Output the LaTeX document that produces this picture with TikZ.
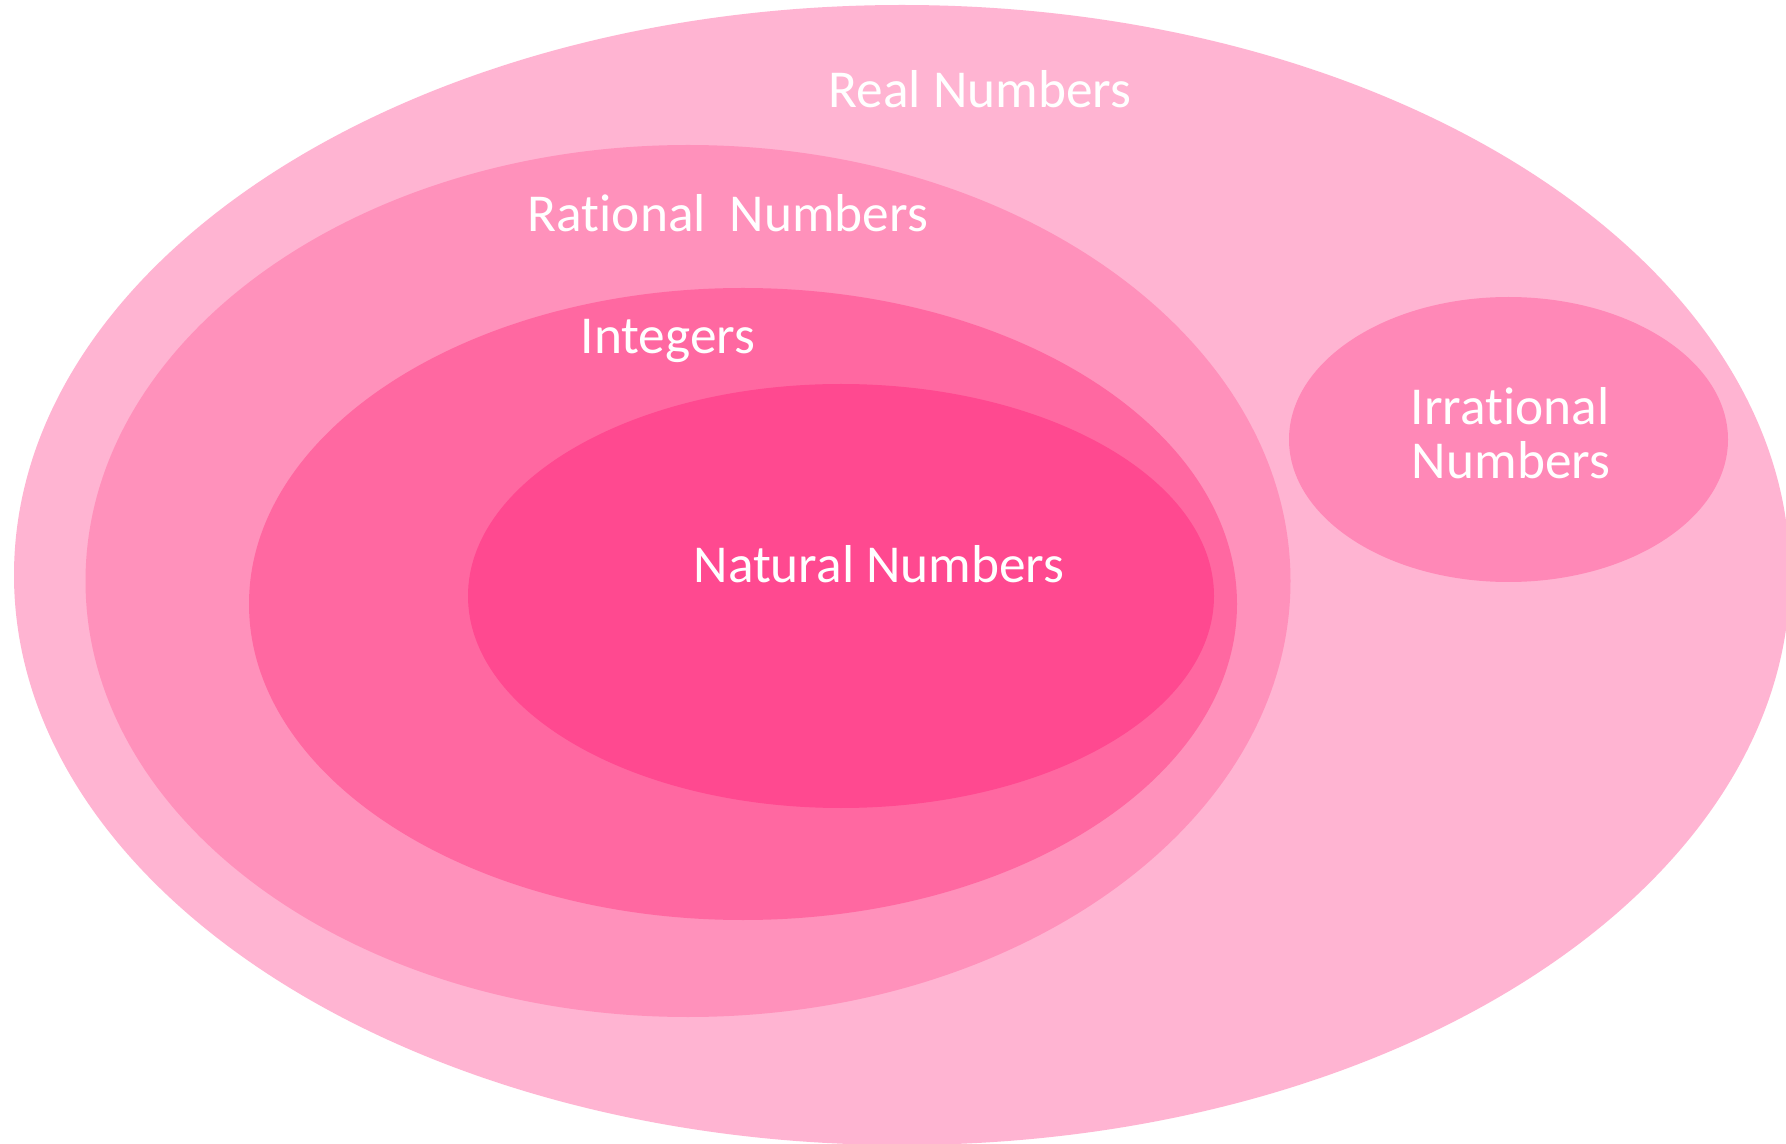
\documentclass[tikz,border=0pt]{standalone}
\usepackage{fontspec}
\setmainfont[Ligatures={NoCommon,NoRare,NoContextual},RawFeature={-liga;-dlig;-clig}]{Carlito}
\usetikzlibrary{shapes.geometric}
\definecolor{realc}{HTML}{FFB4D2}
\definecolor{ratc}{HTML}{FF91BB}
\definecolor{intc}{HTML}{FF68A1}
\definecolor{natc}{HTML}{FF4990}
\definecolor{irrc}{HTML}{FF88B7}
\tikzset{
  setshape/.style={ellipse, draw=none, inner sep=0pt, outer sep=0pt},
  setlabel/.style={text=white, inner sep=0pt, font=\fontsize{40}{41}\selectfont},
}
\begin{document}
\begin{tikzpicture}[x=0.75pt,y=-0.75pt]
\path[use as bounding box, clip] (0,0) rectangle (1786,1144);
\fill[white] (0,0) rectangle (1786,1144);
\node[setshape, fill=realc, minimum width=1776*0.75pt, minimum height=1140*0.75pt] (real) at (902,575) {};
\node[setshape, fill=irrc, minimum width=439*0.75pt, minimum height=285*0.75pt] (irr) at (1508.5,439.5) {};
\node[setshape, fill=ratc, minimum width=1205*0.75pt, minimum height=872*0.75pt] (rat) at (688,581) {};
\node[setshape, fill=intc, minimum width=988*0.75pt, minimum height=632*0.75pt] (int) at (743,604) {};
\node[setshape, fill=natc, minimum width=746*0.75pt, minimum height=424*0.75pt] (nat) at (841,596) {};
\node[setlabel, anchor=base] (realt) at (980,108) {Real Numbers};
\node[setlabel, anchor=base] (ratt) at (728,232) {Rational\ \ Numbers};
\node[setlabel, anchor=base] (intt) at (668,354) {Integers};
\node[setlabel, anchor=base] (natt) at (879,583) {Natural Numbers};
\node[setlabel, anchor=base] (irrt1) at (1510,425) {Irrational};
\node[setlabel, anchor=base] (irrt2) at (1511,479) {Numbers};
\end{tikzpicture}
\end{document}
